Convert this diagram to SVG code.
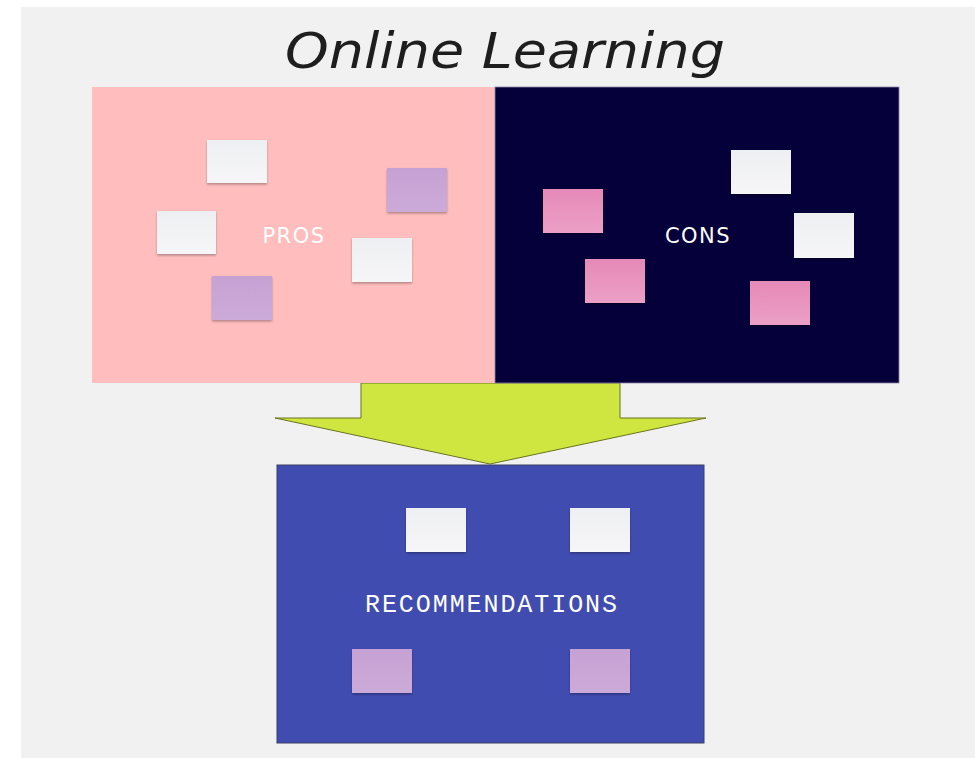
<svg xmlns="http://www.w3.org/2000/svg" width="975" height="758" viewBox="0 0 975 758">
<defs>
<linearGradient id="gw" x1="0" y1="0" x2="0" y2="1"><stop offset="0" stop-color="#eeeff2"/><stop offset="1" stop-color="#f6f6f8"/></linearGradient>
<linearGradient id="gp" x1="0" y1="0" x2="0" y2="1"><stop offset="0" stop-color="#c6a2d4"/><stop offset="1" stop-color="#ccaad8"/></linearGradient>
<linearGradient id="gk" x1="0" y1="0" x2="0" y2="1"><stop offset="0" stop-color="#e68ab8"/><stop offset="1" stop-color="#eca0c6"/></linearGradient>
<filter id="sh" x="-10%" y="-10%" width="120%" height="130%"><feDropShadow dx="0" dy="1.5" stdDeviation="1" flood-color="#000" flood-opacity="0.3"/></filter>
</defs>
<style>
.bg{fill:#f1f1f1}
.title{font-family:"DejaVu Sans","Liberation Sans",sans-serif;font-style:italic;font-weight:200;font-size:50px;fill:#1e1e1e}
.lbl{font-family:"DejaVu Sans","Liberation Sans",sans-serif;font-size:21px;fill:#ffffff;letter-spacing:1.5px}
.mono{font-family:"Liberation Mono","DejaVu Sans Mono",monospace;font-size:25px;fill:#ffffff}
.sw{fill:url(#gw);filter:url(#sh)}
.sp{fill:url(#gp);filter:url(#sh)}
.sk{fill:url(#gk);filter:url(#sh)}
</style>
<rect x="0" y="0" width="975" height="758" fill="#ffffff"/>
<rect class="bg" x="21" y="7" width="954" height="751"/>
<text class="title" x="505" y="68" text-anchor="middle" textLength="440" lengthAdjust="spacingAndGlyphs">Online Learning</text>
<g id="connectors">
<polygon points="361,383 620,383 620,418 706,418 490,464 275,418 361,418" fill="#cee63f" stroke="#6b7320" stroke-width="1"/>
</g>
<g id="pros">
<rect x="92" y="87" width="403" height="296" fill="#ffbdbd"/>
<text class="lbl" x="294" y="243" text-anchor="middle">PROS</text>
<rect class="sw" x="207" y="140" width="60" height="43"/>
<rect class="sp" x="387" y="168" width="60" height="44"/>
<rect class="sw" x="157" y="211" width="59" height="43"/>
<rect class="sw" x="352" y="238" width="60" height="44"/>
<rect class="sp" x="212" y="276" width="60" height="44"/>
</g>
<g id="cons">
<rect x="495" y="87" width="404" height="296" fill="#05003a" stroke="#8a86a8" stroke-width="0.8"/>
<text class="lbl" x="698" y="243" text-anchor="middle">CONS</text>
<rect class="sk" x="543" y="189" width="60" height="44"/>
<rect class="sw" x="731" y="150" width="60" height="44"/>
<rect class="sw" x="794" y="213" width="60" height="45"/>
<rect class="sk" x="585" y="259" width="60" height="44"/>
<rect class="sk" x="750" y="281" width="60" height="44"/>
</g>
<g id="recommendations">
<rect x="277" y="465" width="427" height="278" fill="#414cb1" stroke="#3a3f63" stroke-width="1"/>
<text class="mono" x="491" y="612" text-anchor="middle" textLength="252" lengthAdjust="spacing">RECOMMENDATIONS</text>
<rect class="sw" x="406" y="508" width="60" height="44"/>
<rect class="sw" x="570" y="508" width="60" height="44"/>
<rect class="sp" x="352" y="649" width="60" height="44"/>
<rect class="sp" x="570" y="649" width="60" height="44"/>
</g>
</svg>
